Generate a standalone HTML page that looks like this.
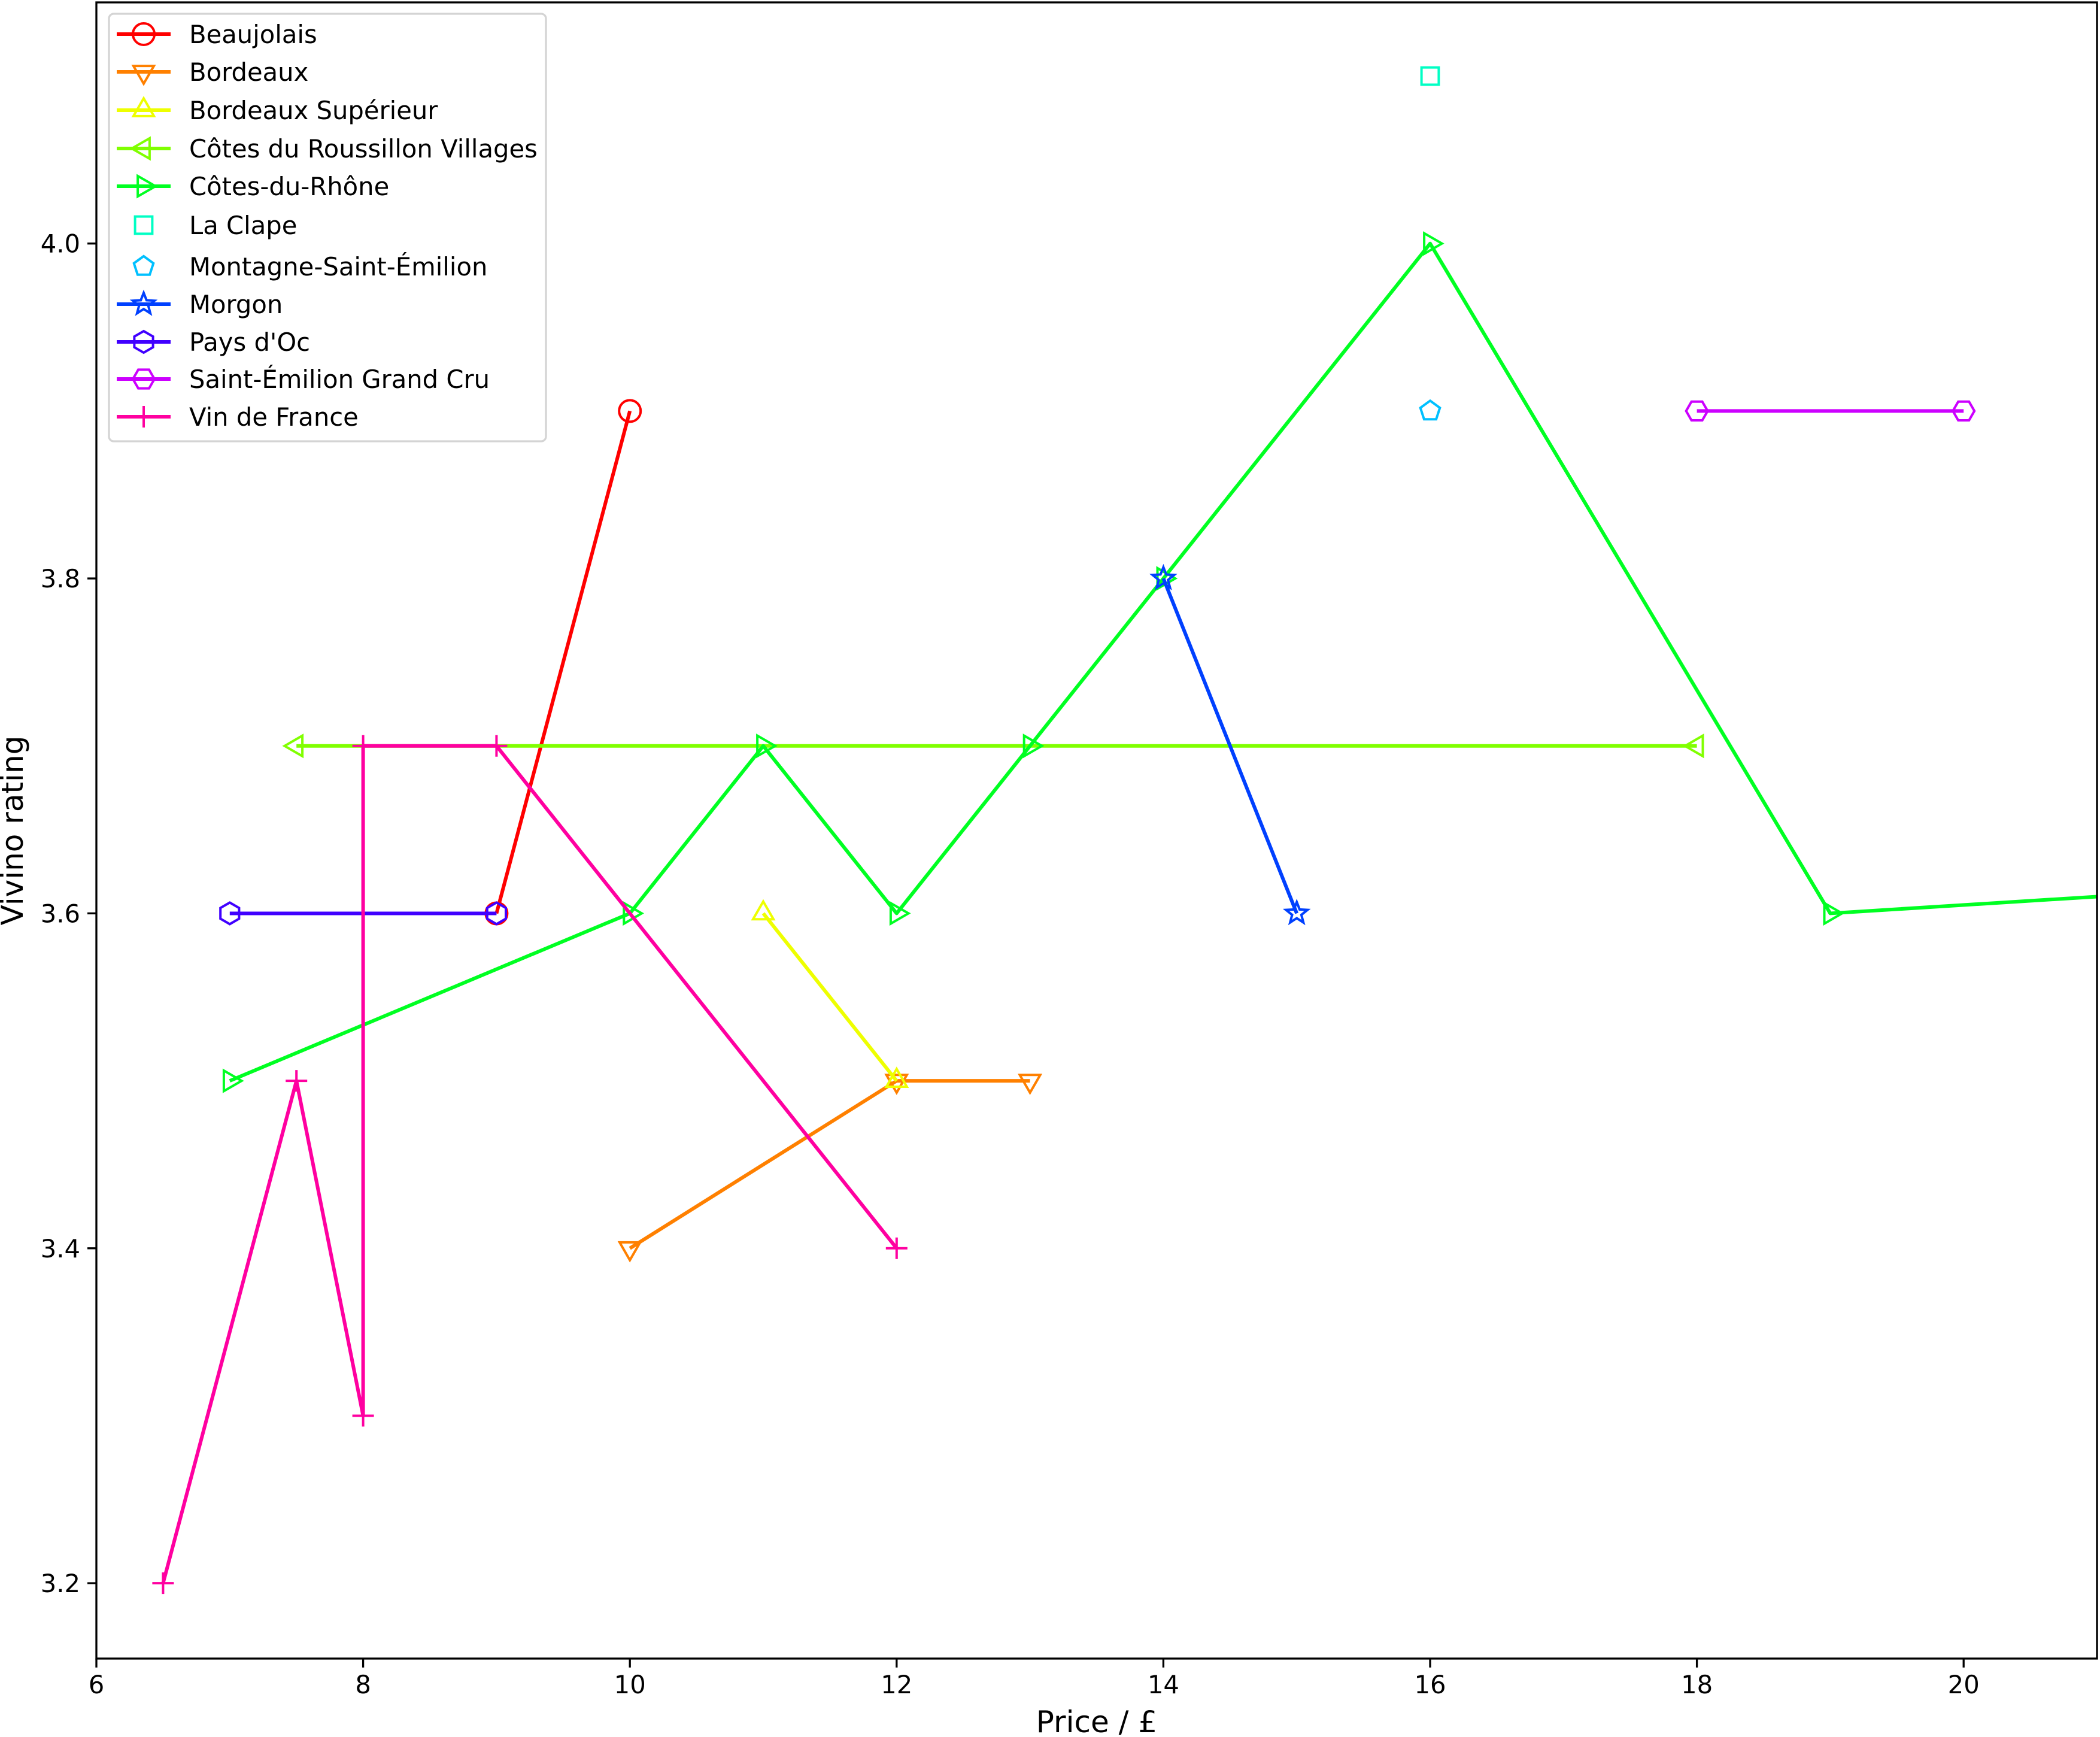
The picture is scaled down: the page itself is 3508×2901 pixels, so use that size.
<!DOCTYPE html>
<html><head><meta charset="utf-8"><style>
html,body{margin:0;padding:0;background:#fff;}
svg{display:block;font-family:"DejaVu Sans","Liberation Sans",sans-serif;}
</style></head><body>
<svg id="chart" width="3508" height="2901" viewBox="0 0 3508 2901" xmlns="http://www.w3.org/2000/svg">
<defs><clipPath id="plotclip"><rect x="161" y="4" width="3342" height="2766"/></clipPath></defs>
<rect x="0" y="0" width="3508" height="2901" fill="#fff"/>
<g id="series" clip-path="url(#plotclip)"></g>
<g id="axes"></g>
<g id="legend"></g>
</svg>
<script>
const seriesNames = ["Beaujolais","Bordeaux","Bordeaux Supérieur","Côtes du Roussillon Villages","Côtes-du-Rhône","La Clape","Montagne-Saint-Émilion","Morgon","Pays d'Oc","Saint-Émilion Grand Cru","Vin de France"];
const seriesX = [[9,10],[10,12,13],[11,12],[7.5,18],[7,10,11,12,13,14,16,19,23],[16],[16],[14,15],[7,9],[18,20],[6.5,7.5,8,8,9,12]];
const seriesY = [[3.6,3.9],[3.4,3.5,3.5],[3.6,3.5],[3.7,3.7],[3.5,3.6,3.7,3.6,3.7,3.8,4.0,3.6,3.62],[4.1],[3.9],[3.8,3.6],[3.6,3.6],[3.9,3.9],[3.2,3.5,3.3,3.7,3.7,3.4]];
const seriesColors = ["#ff0000","#ff8000","#eeff00","#80ff00","#00ff22","#00ffc4","#00c0ff","#0040ff","#4000ff","#cc00ff","#ff00a0"];
const seriesMarkers = ["o","v","^","<",">","s","p","*","h","H","+"];
const seriesLines = [true,true,true,true,true,false,false,true,true,true,true];
const xTicks = [6,8,10,12,14,16,18,20];
const yTicks = [3.2,3.4,3.6,3.8,4.0];
const xTickLabels = ["6","8","10","12","14","16","18","20"];
const yTickLabels = ["3.2","3.4","3.6","3.8","4.0"];

const L=161,R=3503,T=4,B=2770;
const xMin=6,xMax=21,yMin=3.155,yMax=4.144;
const sx=v=>L+(v-xMin)/(xMax-xMin)*(R-L);
const sy=v=>B-(v-yMin)/(yMax-yMin)*(B-T);
const NS="http://www.w3.org/2000/svg";
function mk(tag,attrs,parent){const e=document.createElementNS(NS,tag);for(const k in attrs)e.setAttribute(k,attrs[k]);parent.appendChild(e);return e;}
function poly(cx,cy,r,n,rot){let p=[];for(let i=0;i<n;i++){const a=rot+i*2*Math.PI/n;p.push((cx+r*Math.sin(a)).toFixed(1)+","+(cy-r*Math.cos(a)).toFixed(1));}return p.join(" ");}
function marker(m,cx,cy,color,parent){
  const st={fill:"none",stroke:color,"stroke-width":4};let e;const r=18;
  if(m==="o")e=mk("circle",Object.assign({cx,cy,r:r},st),parent);
  else if(m==="v")e=mk("polygon",Object.assign({points:poly(cx,cy,r*1.1,3,Math.PI)},st),parent);
  else if(m==="^")e=mk("polygon",Object.assign({points:poly(cx,cy,r*1.1,3,0)},st),parent);
  else if(m==="<")e=mk("polygon",Object.assign({points:poly(cx,cy,r*1.1,3,-Math.PI/2)},st),parent);
  else if(m===">")e=mk("polygon",Object.assign({points:poly(cx,cy,r*1.1,3,Math.PI/2)},st),parent);
  else if(m==="s")e=mk("rect",Object.assign({x:cx-r*0.8,y:cy-r*0.8,width:r*1.6,height:r*1.6},st),parent);
  else if(m==="p")e=mk("polygon",Object.assign({points:poly(cx,cy,r*0.95,5,0)},st),parent);
  else if(m==="*"){let p=[];for(let i=0;i<10;i++){const a=i*Math.PI/5;const rr=i%2?r*0.45:r*1.05;p.push((cx+rr*Math.sin(a)).toFixed(1)+","+(cy-rr*Math.cos(a)).toFixed(1));}e=mk("polygon",Object.assign({points:p.join(" ")},st),parent);}
  else if(m==="h")e=mk("polygon",Object.assign({points:poly(cx,cy,r,6,0)},st),parent);
  else if(m==="H")e=mk("polygon",Object.assign({points:poly(cx,cy,r,6,Math.PI/6)},st),parent);
  else if(m==="+")e=mk("path",{d:`M${cx-r} ${cy}H${cx+r}M${cx} ${cy-r}V${cy+r}`,stroke:color,"stroke-width":4,fill:"none"},parent);
  
  
}
const sg=document.getElementById("series");
seriesNames.forEach((n,i)=>{
  const g=mk("g",{},sg);
  
  
  const pts=seriesX[i].map((x,j)=>[sx(x),sy(seriesY[i][j])]);
  if(seriesLines[i]){
    const pl=mk("polyline",{points:pts.map(p=>p.join(",")).join(" "),fill:"none",stroke:seriesColors[i],"stroke-width":6,"stroke-linejoin":"round"},g);
    
    
  }
  pts.forEach(p=>marker(seriesMarkers[i],p[0],p[1],seriesColors[i],g));
});
const ax=document.getElementById("axes");
const frame=mk("rect",{x:L,y:T,width:R-L,height:B-T,fill:"none",stroke:"#000","stroke-width":3.3},ax);


xTicks.forEach((v,i)=>{
  mk("line",{x1:sx(v),x2:sx(v),y1:B,y2:B+15,stroke:"#000","stroke-width":3.3},ax);
  const t=mk("text",{x:sx(v),y:B+58,"font-size":41.7,"text-anchor":"middle",fill:"#000"},ax);
  t.textContent=xTickLabels[i];
  
  
});
yTicks.forEach((v,i)=>{
  mk("line",{x1:L-15,x2:L,y1:sy(v),y2:sy(v),stroke:"#000","stroke-width":3.3},ax);
  const t=mk("text",{x:L-27,y:sy(v)+15,"font-size":41.7,"text-anchor":"end",fill:"#000"},ax);
  t.textContent=yTickLabels[i];
  
  
});
const xt=mk("text",{x:(L+R)/2,y:2893,"font-size":50,"text-anchor":"middle",fill:"#000"},ax);
xt.textContent="Price / £";


const yt=mk("text",{x:0,y:0,"font-size":50,"text-anchor":"middle",fill:"#000",transform:`translate(38,${(T+B)/2}) rotate(-90)`},ax);
yt.textContent="Vivino rating";


const lg=document.getElementById("legend");
const box=mk("rect",{x:182,y:23,width:730,height:714,rx:8,fill:"#fff","fill-opacity":0.8,stroke:"#d4d4d4","stroke-width":3.3},lg);


const legendYs=[57,120,184,248,311,376,445,508,571,633,696];
seriesNames.forEach((n,i)=>{
  const g=mk("g",{},lg);
  
  
  const y=legendYs[i];
  if(seriesLines[i])mk("line",{x1:195,x2:285,y1:y,y2:y,stroke:seriesColors[i],"stroke-width":6},g);
  marker(seriesMarkers[i],240,y,seriesColors[i],g);
  const t=mk("text",{x:316,y:y+15,"font-size":41.7,fill:"#000"},g);
  t.textContent=n;
});
</script>
</body></html>
